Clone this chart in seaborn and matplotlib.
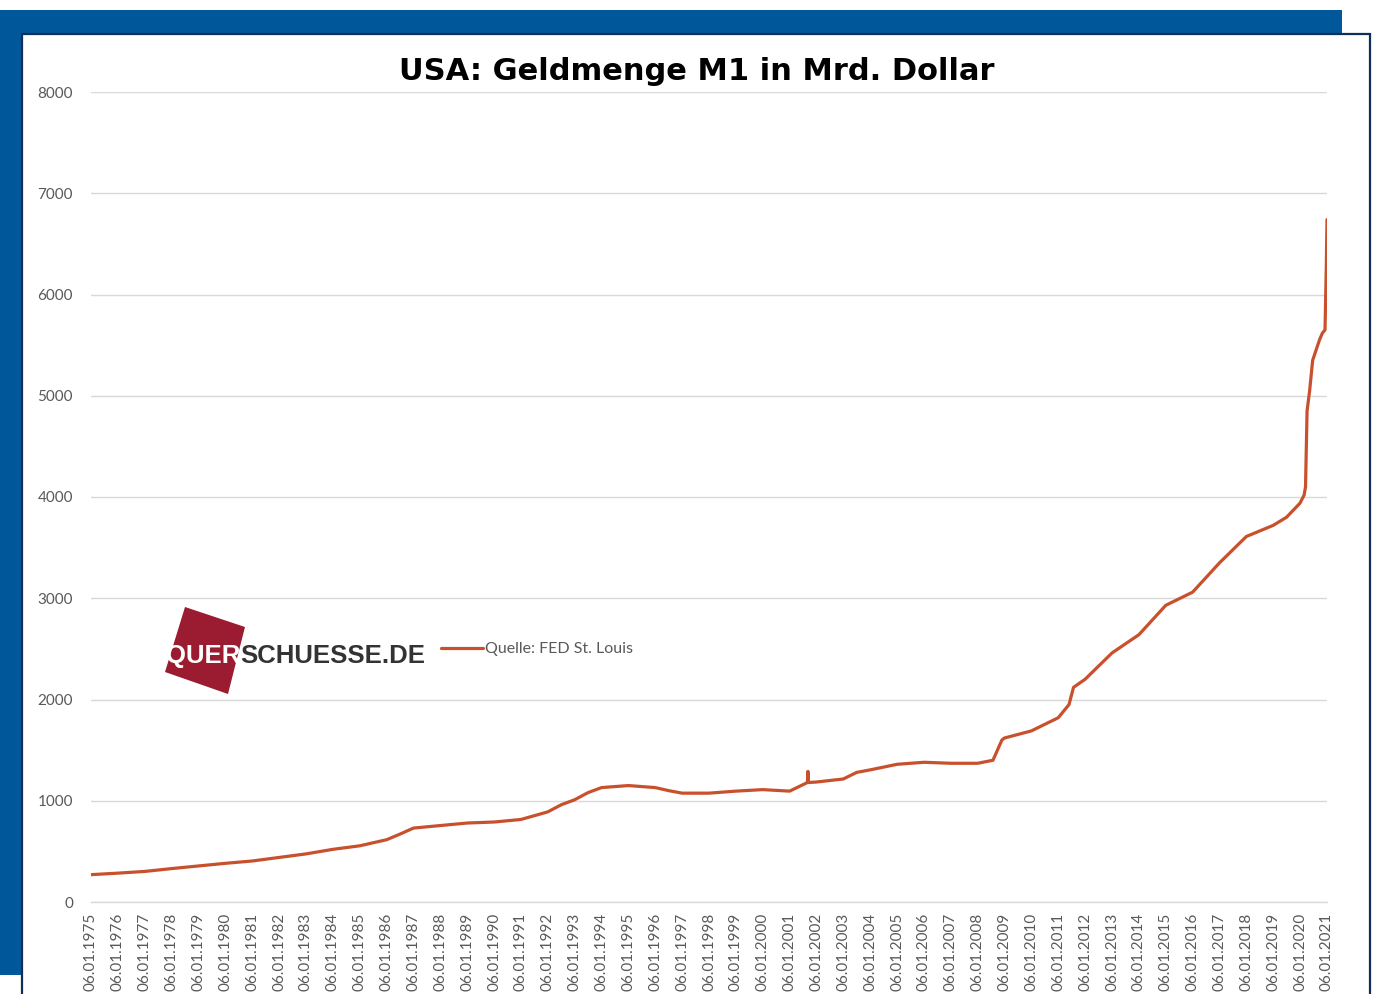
import pandas as pd
import matplotlib
matplotlib.use("Agg")
import matplotlib.pyplot as plt
import seaborn as sns
from matplotlib.patches import Rectangle, Polygon

# M1 (Mrd. Dollar)
dates = [
    "1975-01-06", "1976-01-06", "1977-01-06", "1978-01-06", "1979-01-06",
    "1980-01-06", "1981-01-06", "1982-01-06", "1983-01-06", "1984-01-06",
    "1985-01-06", "1986-01-06", "1986-07-06", "1987-01-06", "1988-01-06",
    "1989-01-06", "1990-01-06", "1991-01-06", "1992-01-06", "1992-07-06",
    "1993-01-06", "1993-07-06", "1994-01-06", "1995-01-06", "1996-01-06",
    "1996-07-06", "1997-01-06", "1998-01-06", "1999-01-06", "2000-01-06",
    "2001-01-06", "2001-09-05", "2001-09-12", "2001-09-19", "2002-01-06",
    "2003-01-06", "2003-07-06", "2004-01-06", "2005-01-06", "2006-01-06",
    "2007-01-06", "2008-01-06", "2008-08-01", "2008-10-01", "2008-12-01",
    "2009-01-06", "2010-01-06", "2011-01-06", "2011-06-01", "2011-08-01",
    "2012-01-06", "2013-01-06", "2014-01-06", "2015-01-06", "2016-01-06",
    "2017-01-06", "2018-01-06", "2019-01-06", "2019-07-06", "2020-01-06",
    "2020-03-01", "2020-03-20", "2020-04-10", "2020-05-15", "2020-06-25",
    "2020-09-25", "2020-11-05", "2020-12-10", "2020-12-28", "2021-01-06",
]
values = [
    270, 285, 302, 330, 356,
    382, 405, 440, 475, 520,
    555, 615, 670, 730, 755,
    780, 790, 815, 890, 960,
    1010, 1080, 1130, 1150, 1130,
    1100, 1075, 1075, 1095, 1110,
    1095, 1180, 1290, 1180, 1185,
    1215, 1280, 1305, 1360, 1380,
    1370, 1370, 1400, 1500, 1600,
    1620, 1690, 1820, 1950, 2120,
    2200, 2460, 2640, 2930, 3060,
    3350, 3610, 3720, 3800, 3940,
    4020, 4100, 4850, 5050, 5350,
    5550, 5620, 5650, 6300, 6740,
]
tick_years = list(range(1975, 2022))
y_ticks = [0, 1000, 2000, 3000, 4000, 5000, 6000, 7000, 8000]

title = "USA: Geldmenge M1 in Mrd. Dollar"
source = "Quelle: FED St. Louis"

W, H = 1375, 994
blue = "#00589b"
navy = "#0d2f5a"
line_col = "#c9502c"
grey_txt = "#595959"


def fx(px):
    return px / W


def fy(py):
    return 1 - py / H


df = pd.DataFrame({"date": pd.to_datetime(dates), "m1": values})

sns.set_style("white")
plt.rcParams["font.family"] = ["Lato", "DejaVu Sans"]

fig = plt.figure(figsize=(W / 100, H / 100), dpi=100)

# frame around the chart
fig.add_artist(Rectangle((0, fy(35)), fx(1342), 25 / H, transform=fig.transFigure,
                         facecolor=blue, edgecolor="none", zorder=0))
fig.add_artist(Rectangle((0, fy(975)), fx(22), (975 - 10) / H, transform=fig.transFigure,
                         facecolor=blue, edgecolor="none", zorder=0))
fig.add_artist(Rectangle((fx(22), fy(1000)), fx(1370 - 22), (1000 - 34) / H,
                         transform=fig.transFigure, facecolor="white",
                         edgecolor=navy, linewidth=1.6, zorder=0.5))

ax = fig.add_axes([fx(91), fy(902), fx(1327 - 91), (902 - 92) / H])
ax.set_facecolor("none")
ax.set_zorder(1)

sns.lineplot(data=df, x="date", y="m1", ax=ax, color=line_col, linewidth=2.3,
             label=source)

ax.set_ylim(0, 8000)
ax.set_yticks(y_ticks)
ax.set_xlim(pd.Timestamp("1975-01-06"), pd.Timestamp("2021-01-06"))
ticks = [pd.Timestamp(f"{y}-01-06") for y in tick_years]
ax.set_xticks(ticks)
ax.set_xticklabels([f"06.01.{y}" for y in tick_years], rotation=90)
ax.set_xlabel("")
ax.set_ylabel("")

ax.grid(axis="y", color="#d9d9d9", linewidth=1)
ax.grid(axis="x", visible=False)
for s in ["top", "right", "left"]:
    ax.spines[s].set_visible(False)
ax.spines["bottom"].set_color("#d9d9d9")
ax.spines["bottom"].set_linewidth(1)
ax.tick_params(axis="y", length=0, pad=13, labelsize=11, labelcolor=grey_txt)
ax.tick_params(axis="x", length=5, width=1, color="#d9d9d9", direction="out",
               pad=3, labelsize=11, labelcolor=grey_txt)
for lab in ax.get_xticklabels():
    lab.set_va("top")

# title
fig.text(fx(697), fy(57), title, ha="center", va="top", fontsize=22,
         fontweight="bold", family=["DejaVu Sans"], color="black")

# legend
leg = ax.legend(loc="center left", bbox_to_anchor=(fx(441), fy(649)),
                bbox_transform=fig.transFigure, frameon=False, fontsize=11.5,
                handlelength=2.6, handletextpad=0.15, borderpad=0, borderaxespad=0)
for t in leg.get_texts():
    t.set_color(grey_txt)

# logo
corners = [(185, 607), (245, 627), (228, 694), (165, 672)]
fig.add_artist(Polygon([(fx(x), fy(y)) for x, y in corners], closed=True,
                       transform=fig.transFigure, facecolor="#9b1c31",
                       edgecolor="none", zorder=3))
logo_font = ["Liberation Sans", "DejaVu Sans"]
t1 = fig.text(fx(166), fy(663), "QUER", ha="left", va="baseline", fontsize=18.5,
              fontweight="bold", family=logo_font, color="white", zorder=4)
fig.canvas.draw()
bb = t1.get_window_extent()
fig.text(bb.x1 / W, fy(663), "SCHUESSE.DE", ha="left", va="baseline", fontsize=18.5,
         fontweight="bold", family=logo_font, color="#333333", zorder=4)

fig.savefig("out.png", dpi=100)
